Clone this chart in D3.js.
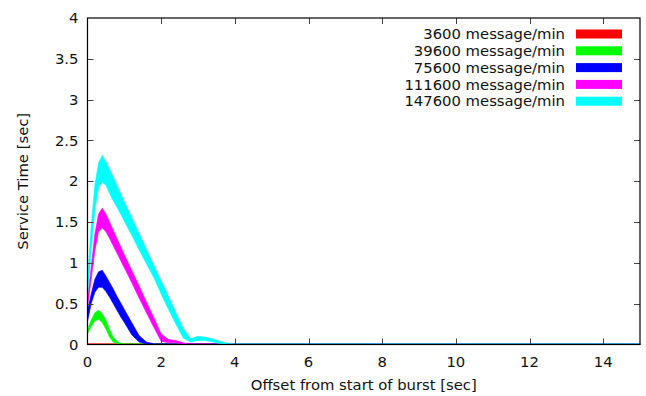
<!DOCTYPE html>
<html>
<head>
<meta charset="utf-8">
<script src="https://cdn.jsdelivr.net/npm/d3@7"></script>
<style>
  html, body { margin: 0; padding: 0; background: #fff; }
  svg { display: block; font-family: "DejaVu Sans", sans-serif; }
</style>
</head>
<body>
<div id="chart"></div>
<script>
// time offsets (sec) shared by all series
const offsets = [0, 0.1, 0.2, 0.3, 0.4, 0.5, 0.6, 0.7, 0.8, 0.9, 1.0, 1.2, 1.4, 1.6, 1.8, 2.0, 2.2, 2.4, 2.6, 2.8, 3.0, 3.2, 3.4, 3.6, 3.8, 4.0, 15];

const seriesNames = ["3600 message/min", "39600 message/min", "75600 message/min", "111600 message/min", "147600 message/min"];
const seriesColors = ["#ff0000", "#00ff00", "#0000ff", "#ff00ff", "#00ffff"];

// lower / upper edge of each band
const low3600  = [0, 0, 0, 0, 0, 0, 0, 0, 0, 0, 0, 0, 0, 0, 0, 0, 0, 0, 0, 0, 0, 0, 0, 0, 0, 0, 0];
const high3600 = [0.01, 0.01, 0.01, 0.01, 0.01, 0.01, 0.01, 0.01, 0.01, 0.01, 0.01, 0.01, 0.01, 0.01, 0.01, 0.01, 0.01, 0.01, 0.01, 0.01, 0.01, 0.01, 0.01, 0.01, 0.01, 0.01, 0.01];

const low39600  = [0.13, 0.22, 0.29, 0.31, 0.27, 0.19, 0.09, 0.03, 0.01, 0, 0, 0, 0, 0, 0, 0, 0, 0, 0, 0, 0, 0, 0, 0, 0, 0, 0];
const high39600 = [0.18, 0.30, 0.39, 0.42, 0.38, 0.30, 0.18, 0.09, 0.04, 0.015, 0.01, 0.01, 0.01, 0.01, 0.01, 0.01, 0.01, 0.01, 0.01, 0.01, 0.01, 0.01, 0.01, 0.01, 0.01, 0.01, 0.01];

const low75600  = [0.28, 0.50, 0.64, 0.70, 0.70, 0.65, 0.58, 0.50, 0.42, 0.34, 0.27, 0.12, 0.03, 0.005, 0, 0, 0, 0, 0, 0, 0, 0, 0, 0, 0, 0, 0];
const high75600 = [0.42, 0.62, 0.80, 0.89, 0.91, 0.84, 0.76, 0.68, 0.59, 0.51, 0.43, 0.27, 0.11, 0.03, 0.01, 0.01, 0.01, 0.01, 0.01, 0.01, 0.01, 0.01, 0.01, 0.01, 0.01, 0.01, 0.01];

const low111600  = [0.45, 0.80, 1.15, 1.38, 1.43, 1.38, 1.30, 1.21, 1.12, 1.03, 0.94, 0.76, 0.57, 0.39, 0.21, 0.04, 0.02, 0.02, 0, 0, 0, 0, 0, 0, 0, 0, 0];
const high111600 = [0.55, 0.95, 1.35, 1.60, 1.67, 1.60, 1.50, 1.40, 1.30, 1.20, 1.10, 0.91, 0.72, 0.52, 0.33, 0.13, 0.06, 0.05, 0.02, 0.01, 0.01, 0.01, 0.01, 0.01, 0.01, 0.01, 0.01];

const low147600  = [0.60, 1.15, 1.65, 1.92, 1.99, 1.95, 1.85, 1.76, 1.68, 1.60, 1.51, 1.34, 1.16, 0.99, 0.82, 0.62, 0.43, 0.25, 0.08, 0.03, 0.05, 0.05, 0.03, 0.01, 0, 0, 0];
const high147600 = [0.80, 1.45, 1.95, 2.22, 2.32, 2.24, 2.15, 2.05, 1.95, 1.85, 1.75, 1.56, 1.36, 1.17, 0.97, 0.78, 0.59, 0.39, 0.20, 0.07, 0.10, 0.09, 0.07, 0.04, 0.015, 0.01, 0.01];

const lows = [low3600, low39600, low75600, low111600, low147600];
const highs = [high3600, high39600, high75600, high111600, high147600];

const xTicks = [0, 2, 4, 6, 8, 10, 12, 14];
const yTicks = [0, 0.5, 1, 1.5, 2, 2.5, 3, 3.5, 4];

const width = 646, height = 396;
const margin = { top: 18, right: 6, bottom: 51.5, left: 87.5 };
const fontSize = 14.8;

const svg = d3.select("#chart").append("svg")
  .attr("width", width)
  .attr("height", height);

const x = d3.scaleLinear().domain([0, 15]).range([margin.left, width - margin.right]);
const y = d3.scaleLinear().domain([0, 4]).range([height - margin.bottom, margin.top]);

// ---------- bands ----------
const area = d3.area()
  .x(d => x(d.t))
  .y0(d => y(d.lo))
  .y1(d => y(d.hi));

seriesNames.forEach((name, i) => {
  const pts = offsets.map((t, k) => ({ t, lo: lows[i][k], hi: highs[i][k] }));
  svg.append("path")
    .datum(pts)
    .attr("d", area)
    .attr("fill", seriesColors[i])
    .attr("stroke", seriesColors[i])
    .attr("stroke-width", 0.6);
});

// ---------- ticks (inward, mirrored) ----------
const tickLen = 6;
const ticks = svg.append("g").attr("stroke", "#444").attr("stroke-width", 1);

xTicks.forEach(v => {
  const px = Math.round(x(v)) + 0.5;
  if (v > 0) {
    ticks.append("line").attr("x1", px).attr("x2", px).attr("y1", y(0)).attr("y2", y(0) - tickLen);
    ticks.append("line").attr("x1", px).attr("x2", px).attr("y1", y(4)).attr("y2", y(4) + tickLen);
  }
});
yTicks.forEach(v => {
  const py = Math.round(y(v)) + 0.5;
  if (v > 0 && v < 4) {
    ticks.append("line").attr("x1", x(0)).attr("x2", x(0) + tickLen).attr("y1", py).attr("y2", py);
    ticks.append("line").attr("x1", x(15)).attr("x2", x(15) - tickLen).attr("y1", py).attr("y2", py);
  }
});

// border
svg.append("rect")
  .attr("x", x(0))
  .attr("y", y(4))
  .attr("width", x(15) - x(0))
  .attr("height", y(0) - y(4))
  .attr("fill", "none")
  .attr("stroke", "#000")
  .attr("stroke-width", 1.2);

// ---------- tick labels ----------
svg.append("g").selectAll("text")
  .data(xTicks)
  .enter()
  .append("text")
  .attr("x", d => x(d))
  .attr("y", y(0) + 17)
  .attr("dy", "0.35em")
  .attr("text-anchor", "middle")
  .attr("font-size", fontSize)
  .attr("fill", "#111")
  .text(d => d);

svg.append("g").selectAll("text")
  .data(yTicks)
  .enter()
  .append("text")
  .attr("x", x(0) - 9)
  .attr("y", d => y(d))
  .attr("dy", "0.35em")
  .attr("text-anchor", "end")
  .attr("font-size", fontSize)
  .attr("fill", "#111")
  .text(d => d);

// axis titles
svg.append("text")
  .attr("x", (x(0) + x(15)) / 2)
  .attr("y", 385)
  .attr("dy", "0.35em")
  .attr("text-anchor", "middle")
  .attr("font-size", fontSize)
  .attr("fill", "#111")
  .text("Offset from start of burst [sec]");

svg.append("text")
  .attr("transform", `translate(23,${(y(0) + y(4)) / 2}) rotate(-90)`)
  .attr("dy", "0.35em")
  .attr("text-anchor", "middle")
  .attr("font-size", fontSize)
  .attr("fill", "#111")
  .text("Service Time [sec]");

// ---------- legend ----------
const legend = svg.append("g");
seriesNames.forEach((name, i) => {
  const cy = 34 + i * 16.8;
  legend.append("text")
    .attr("x", 565)
    .attr("y", cy)
    .attr("dy", "0.35em")
    .attr("text-anchor", "end")
    .attr("font-size", fontSize)
    .attr("fill", "#111")
    .text(name);
  legend.append("rect")
    .attr("x", 576)
    .attr("y", cy - 4.5)
    .attr("width", 46)
    .attr("height", 9)
    .attr("fill", seriesColors[i]);
});
</script>
</body>
</html>
